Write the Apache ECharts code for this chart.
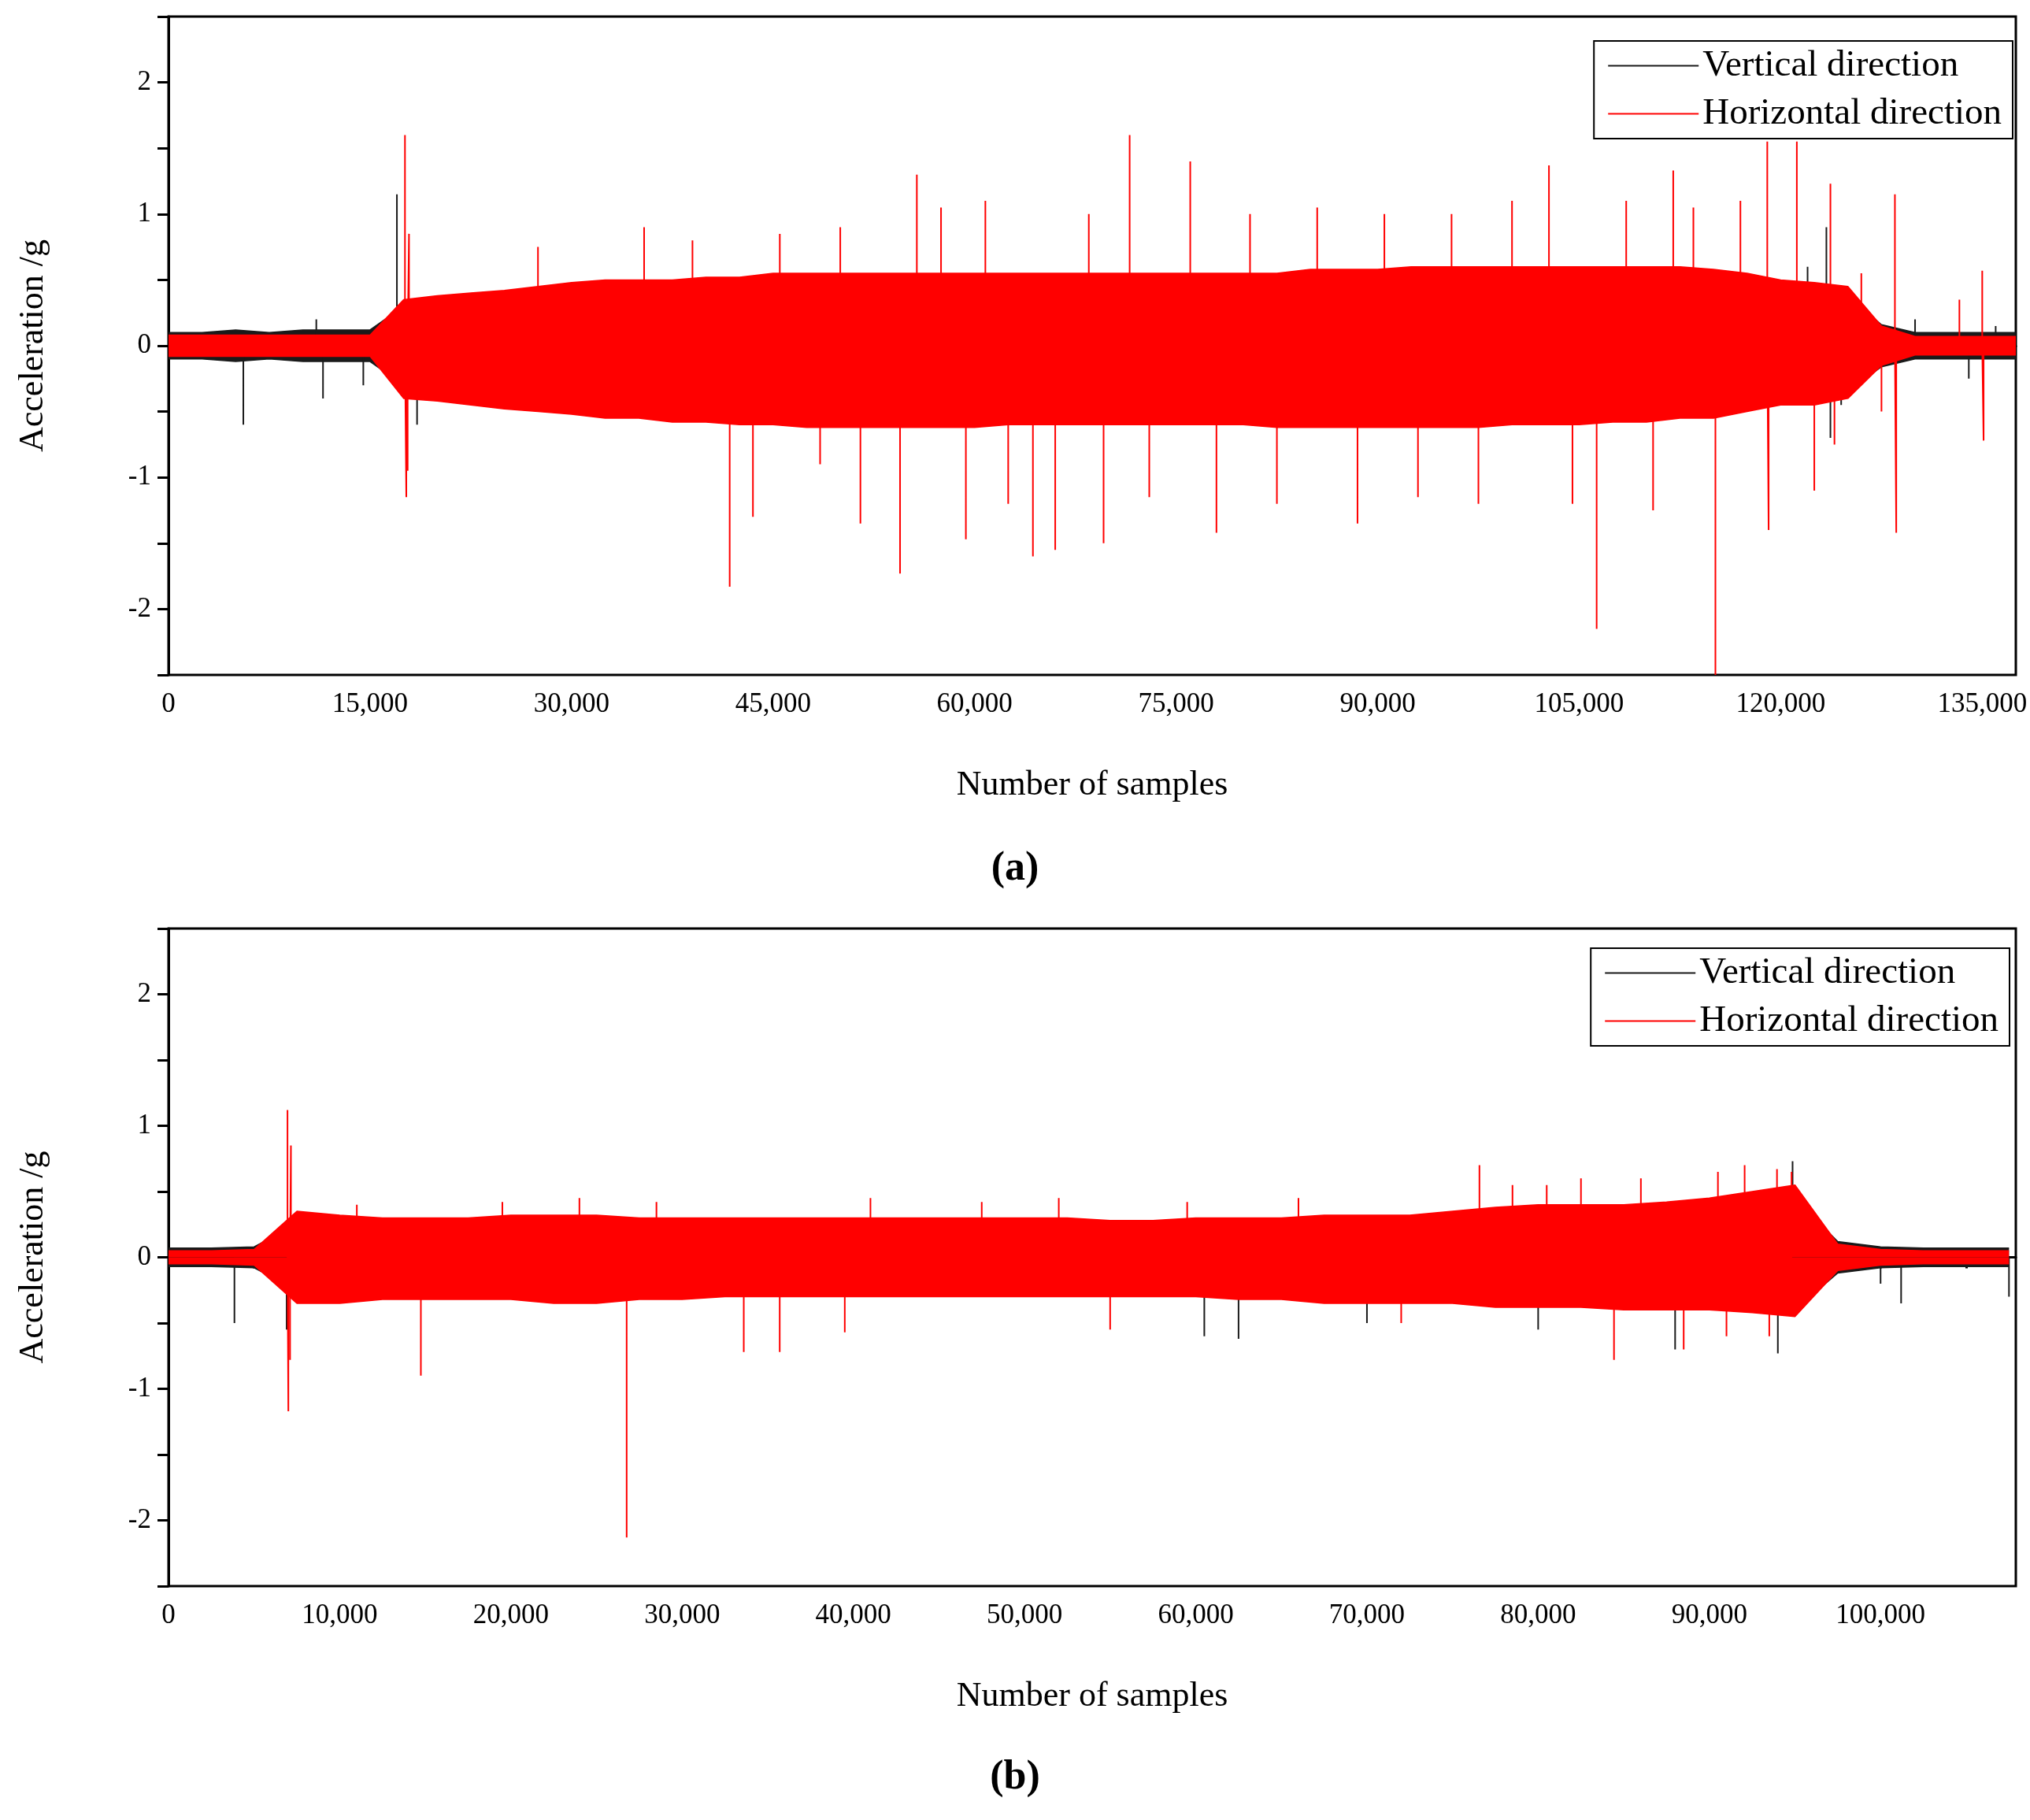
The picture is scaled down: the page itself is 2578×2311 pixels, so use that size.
<!DOCTYPE html>
<html>
<head>
<meta charset="utf-8">
<script src="https://cdn.jsdelivr.net/npm/echarts@6/dist/echarts.min.js"></script>
<style>html,body{margin:0;background:#fff}#c{width:2578px;height:2311px}</style>
</head>
<body>
<div id="c"></div>
<script>
// envelope of the dense body, one value every 2500 samples
const stepA = 2500;
const redUpA = [0.08,0.08,0.08,0.08,0.08,0.08,0.08,0.35,0.38,0.4,0.42,0.45,0.48,0.5,0.5,0.5,0.52,0.52,0.55,0.55,0.55,0.55,0.55,0.55,0.55,0.55,0.55,0.55,0.55,0.55,0.55,0.55,0.55,0.55,0.58,0.58,0.58,0.6,0.6,0.6,0.6,0.6,0.6,0.6,0.6,0.6,0.58,0.55,0.5,0.48,0.45,0.15,0.07,0.07,0.07,0.07];
const redLoA = [-0.08,-0.08,-0.08,-0.08,-0.08,-0.08,-0.08,-0.4,-0.42,-0.45,-0.48,-0.5,-0.52,-0.55,-0.55,-0.58,-0.58,-0.6,-0.6,-0.62,-0.62,-0.62,-0.62,-0.62,-0.62,-0.6,-0.6,-0.6,-0.6,-0.6,-0.6,-0.6,-0.6,-0.62,-0.62,-0.62,-0.62,-0.62,-0.62,-0.62,-0.6,-0.6,-0.6,-0.58,-0.58,-0.55,-0.55,-0.5,-0.45,-0.45,-0.4,-0.15,-0.07,-0.07,-0.07,-0.07];
const blackUpA = [0.1,0.1,0.12,0.1,0.12,0.12,0.12,0.3,0.35,0.35,0.4,0.4,0.4,0.4,0.4,0.45,0.45,0.45,0.45,0.45,0.45,0.45,0.45,0.45,0.45,0.45,0.45,0.45,0.45,0.45,0.45,0.45,0.45,0.45,0.45,0.45,0.45,0.45,0.5,0.5,0.5,0.5,0.5,0.5,0.5,0.5,0.5,0.45,0.42,0.4,0.38,0.16,0.1,0.1,0.1,0.1];
const blackLoA = [-0.1,-0.1,-0.12,-0.1,-0.12,-0.12,-0.12,-0.3,-0.35,-0.35,-0.4,-0.4,-0.4,-0.4,-0.4,-0.45,-0.45,-0.45,-0.45,-0.45,-0.45,-0.45,-0.45,-0.45,-0.45,-0.45,-0.45,-0.45,-0.45,-0.45,-0.45,-0.45,-0.45,-0.45,-0.45,-0.45,-0.45,-0.5,-0.5,-0.5,-0.5,-0.5,-0.5,-0.5,-0.5,-0.5,-0.5,-0.45,-0.4,-0.4,-0.35,-0.16,-0.1,-0.1,-0.1,-0.1];
// isolated peaks [sample, g]
const redSpikesA = [[17600,1.6],[17700,-1.15],[17900,0.85],[17800,-0.95],[27500,0.75],[35400,0.9],[39000,0.8],[41770,-1.83],[43500,-1.3],[45500,0.85],[48500,-0.9],[50000,0.9],[51500,-1.35],[54450,-1.73],[55700,1.3],[57500,1.05],[59350,-1.47],[60800,1.1],[62500,-1.2],[64340,-1.6],[66000,-1.55],[68500,1.0],[69600,-1.5],[71540,1.6],[73000,-1.15],[76050,1.4],[78000,-1.42],[80500,1.0],[82500,-1.2],[85500,1.05],[88500,-1.35],[90500,1.0],[93000,-1.15],[95500,1.0],[97500,-1.2],[100000,1.1],[102750,1.37],[104500,-1.2],[106300,-2.15],[108500,1.1],[110500,-1.25],[112000,1.33],[113500,1.05],[115140,-2.5],[117000,1.1],[119000,1.55],[119100,-1.4],[121200,1.55],[122500,-1.1],[123700,1.23],[124000,-0.75],[126000,0.55],[127500,-0.5],[128500,1.15],[128600,-1.42],[133300,0.35],[135000,0.57],[135100,-0.72]];
const blackSpikesA = [[5570,-0.6],[11000,0.2],[11500,-0.4],[14500,-0.3],[17000,1.15],[18500,-0.6],[122000,0.6],[123400,0.9],[123700,-0.7],[124500,-0.45],[130000,0.2],[134000,-0.25],[136000,0.15]];

const stepB = 2500;
const redUpB = [0.05,0.05,0.06,0.35,0.32,0.3,0.3,0.3,0.32,0.32,0.32,0.3,0.3,0.3,0.3,0.3,0.3,0.3,0.3,0.3,0.3,0.3,0.28,0.28,0.3,0.3,0.3,0.32,0.32,0.32,0.35,0.38,0.4,0.4,0.4,0.42,0.45,0.5,0.55,0.1,0.06,0.05,0.05,0.05];
const redLoB = [-0.05,-0.05,-0.06,-0.35,-0.35,-0.32,-0.32,-0.32,-0.32,-0.35,-0.35,-0.32,-0.32,-0.3,-0.3,-0.3,-0.3,-0.3,-0.3,-0.3,-0.3,-0.3,-0.3,-0.3,-0.3,-0.32,-0.32,-0.35,-0.35,-0.35,-0.35,-0.38,-0.38,-0.38,-0.4,-0.4,-0.4,-0.42,-0.45,-0.1,-0.06,-0.05,-0.05,-0.05];
const blackUpB = [0.07,0.07,0.08,0.25,0.25,0.25,0.25,0.25,0.25,0.25,0.25,0.25,0.25,0.25,0.25,0.25,0.25,0.25,0.25,0.25,0.25,0.25,0.25,0.25,0.25,0.25,0.25,0.25,0.25,0.25,0.28,0.3,0.3,0.3,0.3,0.32,0.35,0.4,0.45,0.12,0.08,0.07,0.07,0.07];
const blackLoB = [-0.07,-0.07,-0.08,-0.25,-0.25,-0.25,-0.25,-0.25,-0.25,-0.25,-0.25,-0.25,-0.25,-0.25,-0.25,-0.25,-0.25,-0.25,-0.25,-0.25,-0.25,-0.25,-0.25,-0.25,-0.25,-0.25,-0.25,-0.28,-0.28,-0.28,-0.3,-0.3,-0.3,-0.3,-0.32,-0.32,-0.35,-0.35,-0.4,-0.12,-0.08,-0.07,-0.07,-0.07];
const redSpikesB = [[6950,1.12],[7000,-1.17],[7150,0.85],[7100,-0.78],[11000,0.4],[14740,-0.9],[19500,0.42],[24000,0.45],[26760,-2.13],[28500,0.42],[33600,-0.72],[35700,-0.72],[39500,-0.57],[41000,0.45],[47500,0.42],[52000,0.45],[55000,-0.55],[59500,0.42],[66000,0.45],[72000,-0.5],[76570,0.7],[78500,0.55],[80500,0.55],[82500,0.6],[84430,-0.78],[86000,0.6],[88500,-0.7],[90500,0.65],[91000,-0.6],[92060,0.7],[93500,-0.6],[93950,0.67],[94800,0.65]];
const blackSpikesB = [[3850,-0.5],[6900,-0.55],[62500,-0.62],[60500,-0.6],[70000,-0.5],[80000,-0.55],[88000,-0.7],[94000,-0.73],[94860,0.73],[96500,0.2],[100000,-0.2],[101200,-0.35],[107500,-0.3]];

const font = 'Liberation Serif';
const pts = (arr, step) => arr.map((v, i) => [i * step, v]);
const spikes = arr => {
  const s = arr.slice().sort((p, q) => p[0] - q[0]);
  const out = [];
  s.forEach(p => { out.push([p[0], 0], [p[0], p[1]], [p[0], 0]); });
  return out;
};
const BLACK = '#1a1a1a', RED = '#ff0000';

function band(name, color, up, lo, step, idx, z) {
  const base = {type: 'line', xAxisIndex: idx, yAxisIndex: idx, showSymbol: false, silent: true, z: z,
    lineStyle: {color: color, width: 1.5}, itemStyle: {color: color}, areaStyle: {color: color, opacity: 1}};
  return [Object.assign({name: name}, base, {data: pts(up, step)}), Object.assign({}, base, {data: pts(lo, step)})];
}
function spk(name, color, arr, idx, z) {
  return {name: name, type: 'line', xAxisIndex: idx, yAxisIndex: idx, showSymbol: false, silent: true, z: z,
    lineStyle: {color: color, width: 2}, itemStyle: {color: color}, data: spikes(arr)};
}

const grids = [{left: 214, top: 21, width: 2346, height: 836}, {left: 214, top: 1179, width: 2346, height: 835}];
const xMax = [137500, 107900], xInt = [7500, 5000], lblEvery = [15000, 10000];

const option = {
  animation: false,
  backgroundColor: '#fff',
  grid: grids.map(g => Object.assign({show: true, borderColor: '#000', borderWidth: 3}, g)),
  xAxis: [0, 1].map(i => ({
    type: 'value', gridIndex: i, min: 0, max: xMax[i], interval: xInt[i],
    name: 'Number of samples', nameLocation: 'middle', nameGap: 118,
    nameTextStyle: {fontFamily: font, fontSize: 44, color: '#000'},
    axisLine: {lineStyle: {color: '#000', width: 3}},
    axisTick: {length: 14, lineStyle: {color: '#000', width: 3}},
    splitLine: {show: false},
    axisLabel: {fontFamily: font, fontSize: 35, color: '#000', margin: 20, showMaxLabel: false,
      formatter: v => v % lblEvery[i] === 0 ? v.toLocaleString('en-US') : ''}
  })),
  yAxis: [0, 1].map(i => ({
    type: 'value', gridIndex: i, min: -2.5, max: 2.5, interval: 0.5,
    name: 'Acceleration /g', nameLocation: 'middle', nameGap: 150,
    nameTextStyle: {fontFamily: font, fontSize: 44, color: '#000'},
    axisLine: {lineStyle: {color: '#000', width: 3}},
    axisTick: {length: 14, lineStyle: {color: '#000', width: 3}},
    splitLine: {show: false},
    axisLabel: {fontFamily: font, fontSize: 35, color: '#000', margin: 22,
      formatter: v => Number.isInteger(v) ? String(v) : ''}
  })),
  legend: [{top: 52, right: 22}, {top: 1204, right: 26}].map(p => Object.assign({
    orient: 'vertical', data: ['Vertical direction', 'Horizontal direction'],
    icon: 'rect', itemWidth: 115, itemHeight: 2, itemGap: 14,
    borderColor: '#000', borderWidth: 2, padding: [8, 14, 8, 18], backgroundColor: '#fff',
    textStyle: {fontFamily: font, fontSize: 47, color: '#000'}
  }, p)),
  graphic: [
    {type: 'text', left: 'center', top: 1078, style: {text: '(a)', font: 'bold 52px "Liberation Serif"', fill: '#000'}},
    {type: 'text', left: 'center', top: 2232, style: {text: '(b)', font: 'bold 52px "Liberation Serif"', fill: '#000'}}
  ],
  series: [
    spk('Vertical direction', BLACK, blackSpikesA, 0, 2),
    ...band(null, BLACK, blackUpA, blackLoA, stepA, 0, 1),
    spk('Horizontal direction', RED, redSpikesA, 0, 4),
    ...band('Horizontal direction', RED, redUpA, redLoA, stepA, 0, 3),
    spk('Vertical direction', BLACK, blackSpikesB, 1, 2),
    ...band(null, BLACK, blackUpB, blackLoB, stepB, 1, 1),
    spk('Horizontal direction', RED, redSpikesB, 1, 4),
    ...band('Horizontal direction', RED, redUpB, redLoB, stepB, 1, 3)
  ]
};
echarts.init(document.getElementById('c')).setOption(option);
</script>
</body>
</html>
